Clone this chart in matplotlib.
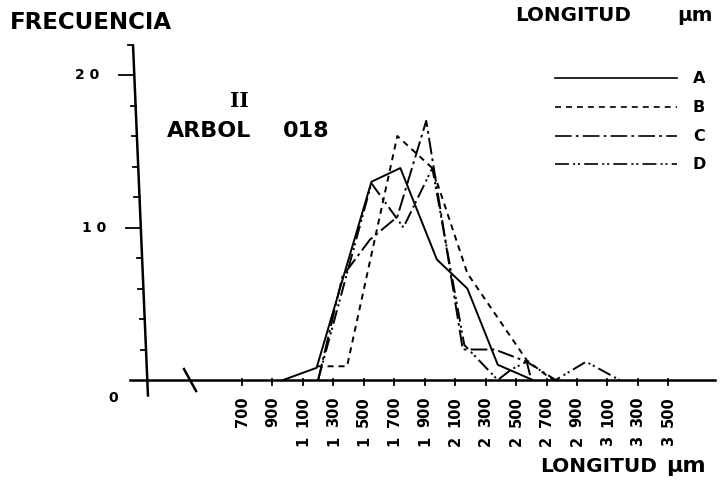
import matplotlib
matplotlib.use('Agg')
import matplotlib.pyplot as plt

plt.rcParams['lines.scale_dashes'] = False

# longitud (um) y frecuencia de cada curva
a_x = [970, 1190, 1550, 1740, 1980, 2180, 2380, 2610]
a_y = [0, 0.8, 13.0, 13.9, 7.9, 6.0, 1.0, 0]
b_x = [1190, 1390, 1720, 1950, 2180, 2570, 2740]
b_y = [0.9, 0.9, 16.0, 13.9, 7.0, 1.3, 0]
c_x = [1200, 1360, 1540, 1720, 1910, 2150, 2360, 2570, 2600]
c_y = [0, 6.8, 9.2, 10.7, 17.0, 2.0, 2.0, 1.2, 0]
d_x = [1200, 1550, 1760, 1950, 2160, 2380, 2470, 2570, 2760, 2960, 3180]
d_y = [0, 12.9, 10.0, 13.9, 2.3, 0, 0.7, 1.2, 0, 1.2, 0]

series_names = ['A', 'B', 'C', 'D']
x_ticks = [700, 900, 1100, 1300, 1500, 1700, 1900, 2100, 2300, 2500,
           2700, 2900, 3100, 3300, 3500]
y_ticks = [2, 4, 6, 8, 10, 12, 14, 16, 18, 20, 22]
y_labels = {10: '1 0', 20: '2 0'}

styles = [
    '-',
    (0, (4.3, 3.6)),
    (0, (12, 3, 2, 3)),
    (0, (10, 3, 1.5, 2, 1.5, 3)),
]

fig = plt.figure(figsize=(7.27, 4.83), dpi=100)
ax = fig.add_axes([0, 0, 1, 1])
ax.set_xlim(-889.5, 3885.5)
ax.set_ylim(-6.754, 24.92)
ax.axis('off')

font = dict(family='DejaVu Sans', fontweight='bold', color='black')

# eje y (inclinado como en el dibujo)
def yaxis_x(v):
    return 78 - 4.27 * v

ax.plot([yaxis_x(-1.1), yaxis_x(22)], [-1.1, 22], color='black', lw=1.8,
        solid_capstyle='butt')
for t in y_ticks:
    ln = 99 if t in y_labels else 33
    ax.plot([yaxis_x(t) - ln, yaxis_x(t)], [t, t], color='black', lw=1.3)
    if t in y_labels:
        ax.text(yaxis_x(t) - 230, t, y_labels[t], ha='right', va='center',
                fontsize=10, **font)
ax.text(-147, -1.18, '0', ha='center', va='center', fontsize=10, **font)

# eje x con corte
ax.plot([-36, 3807], [0, 0], color='black', lw=1.8)
ax.plot([319, 398], [0.72, -0.72], color='black', lw=1.8)
for t in x_ticks:
    ax.plot([t, t], [0.07, -0.3], color='black', lw=1.3)
    ax.text(t, -2.1, '%03d' % (t % 1000), rotation=90, ha='center',
            va='center', fontsize=10.5, **font)
    if t >= 1000:
        ax.text(t, -4.0, str(t // 1000), rotation=90, ha='center',
                va='center', fontsize=10.5, **font)

# curvas
for xs, ys, ls in zip([a_x, b_x, c_x, d_x], [a_y, b_y, c_y, d_y], styles):
    ax.plot(xs, ys, color='black', lw=1.4, linestyle=ls)

# leyenda
legend_y = [19.8, 17.9, 16.0, 14.16]
for name, ls, ly in zip(series_names, styles, legend_y):
    ax.plot([2756, 3557], [ly, ly], color='black', lw=1.2, linestyle=ls)
    ax.text(3702, ly, name, ha='center', va='center', fontsize=11.5, **font)

# textos
ax.text(-824, 23.45, 'FRECUENCIA', ha='left', va='center', fontsize=16.5, **font)
ax.text(2493, 23.93, 'LONGITUD', ha='left', va='center', fontsize=14.3, **font)
ax.text(3557, 23.93, 'µm', ha='left', va='center', fontsize=14.3, **font)
ax.text(680, 18.3, 'II', ha='center', va='center', fontsize=14.5,
        family='DejaVu Serif', fontweight='bold')
ax.text(207, 16.33, 'ARBOL', ha='left', va='center', fontsize=16, **font)
ax.text(969, 16.33, '018', ha='left', va='center', fontsize=16, **font)
ax.text(2657, -5.64, 'LONGITUD', ha='left', va='center', fontsize=14.5, **font)
ax.text(3487, -5.64, 'µm', ha='left', va='center', fontsize=16, **font)

plt.savefig('out.png', dpi=100)
